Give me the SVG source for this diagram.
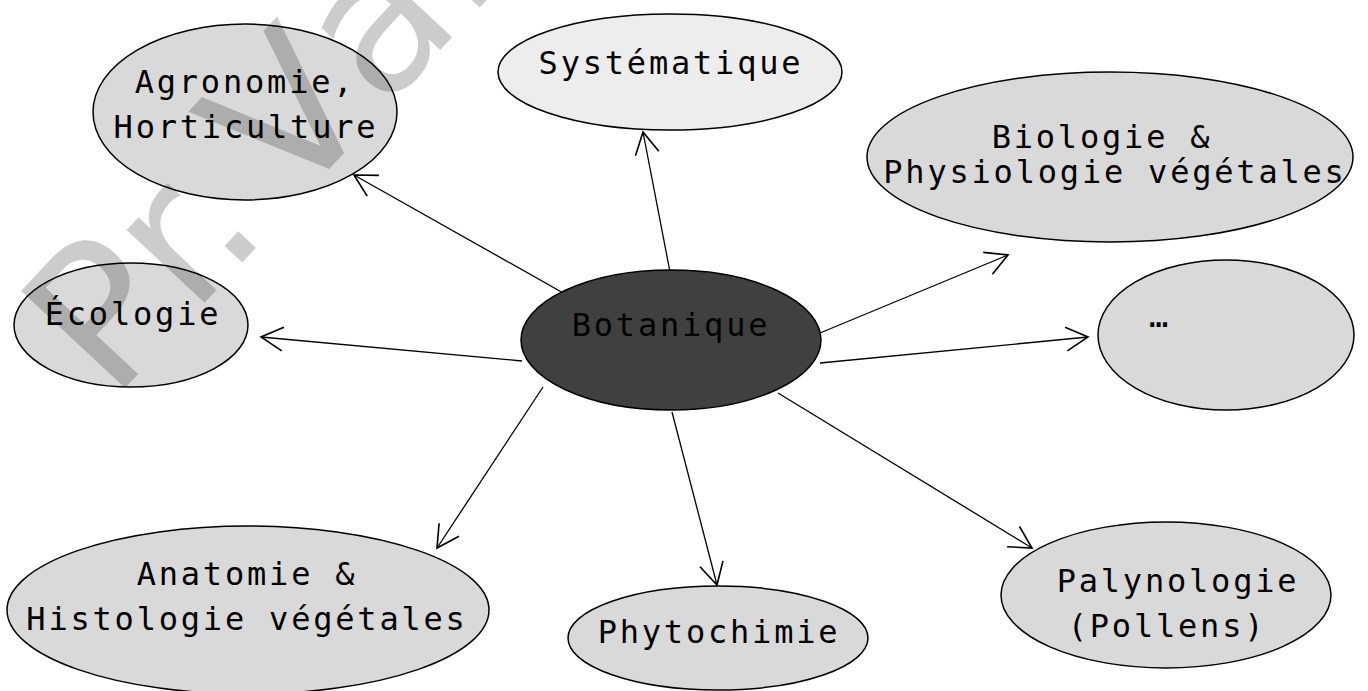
<svg xmlns="http://www.w3.org/2000/svg" width="1368" height="691" viewBox="0 0 1368 691">
<style>
.node ellipse{fill:#d9d9d9;stroke:#000;stroke-width:1.5}
.node text{font-family:"DejaVu Sans Mono",monospace;font-size:32px;letter-spacing:2.8px;fill:#000;text-anchor:middle}
.edges line{stroke:#000;stroke-width:1.3;marker-end:url(#arr)}
.wm{font-family:"DejaVu Sans",sans-serif;font-size:195px;fill:#000;fill-opacity:0.2}
</style>
<defs>
<marker id="arr" markerUnits="userSpaceOnUse" markerWidth="30" markerHeight="30" viewBox="-20 -12 22 24" refX="0" refY="0" orient="auto">
<path d="M-17.5,-9.5 L0,0 L-17.5,9.5" fill="none" stroke="#000" stroke-width="1.3"/>
</marker>
</defs>
<rect width="1368" height="691" fill="#fff"/>
<g id="connectors" class="edges">
<line x1="565" y1="294" x2="354" y2="175"/>
<line x1="670" y1="272" x2="643" y2="132"/>
<line x1="820" y1="333" x2="1008" y2="255"/>
<line x1="522" y1="361" x2="261" y2="337"/>
<line x1="820" y1="363" x2="1088" y2="337"/>
<line x1="543" y1="387" x2="437" y2="548"/>
<line x1="672" y1="412" x2="717" y2="585"/>
<line x1="778" y1="393" x2="1032" y2="548"/>
</g>
<g id="n-agronomie" class="node"><ellipse cx="245" cy="112" rx="152" ry="88"/><text x="245" y="93">Agronomie,</text><text x="246" y="138">Horticulture</text></g>
<g id="n-systematique" class="node"><ellipse cx="670" cy="72" rx="172" ry="58" style="fill:#ededed"/><text x="671" y="74">Systématique</text></g>
<g id="n-biologie" class="node"><ellipse cx="1110" cy="157" rx="243" ry="85"/><text x="1102" y="148">Biologie &amp;</text><text x="1115" y="183">Physiologie végétales</text></g>
<g id="n-ecologie" class="node"><ellipse cx="131" cy="325" rx="117" ry="62"/><text x="133" y="325">Écologie</text></g>
<g id="n-botanique" class="node"><ellipse cx="671" cy="340" rx="150" ry="70" style="fill:#404040"/><text x="671" y="336">Botanique</text></g>
<g id="n-etc" class="node"><ellipse cx="1226" cy="335" rx="128" ry="75"/><text x="1160" y="327">…</text></g>
<g id="n-anatomie" class="node"><ellipse cx="248" cy="610" rx="241" ry="84"/><text x="247" y="585">Anatomie &amp;</text><text x="247" y="630">Histologie végétales</text></g>
<g id="n-phytochimie" class="node"><ellipse cx="718" cy="638" rx="150" ry="52"/><text x="719" y="643">Phytochimie</text></g>
<g id="n-palynologie" class="node"><ellipse cx="1166" cy="595" rx="165" ry="73"/><text x="1178" y="592">Palynologie</text><text x="1167" y="637">(Pollens)</text></g>
<g id="watermark" transform="translate(112,402) rotate(-47)" class="wm">
<text x="0" y="0">P</text><text x="118" y="0">r</text><text x="170" y="0">.</text><text x="263" y="0">V</text><text x="397" y="0">a</text><text x="521" y="0">l</text>
</g>
</svg>
